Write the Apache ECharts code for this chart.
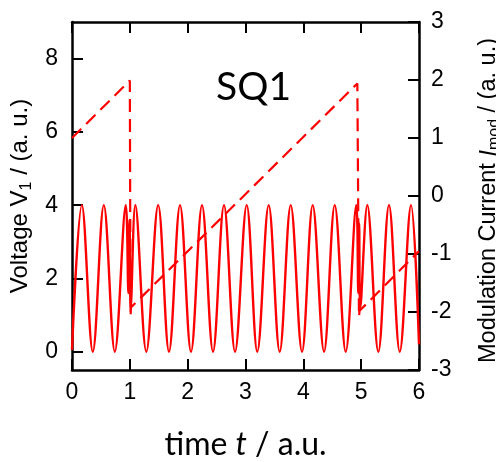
<!DOCTYPE html>
<html>
<head>
<meta charset="utf-8">
<script src="https://cdn.jsdelivr.net/npm/echarts@6/dist/echarts.min.js"></script>
<style>
html,body{margin:0;padding:0;background:#fff;}
#chart{width:496px;height:462px;}
</style>
</head>
<body>
<div id="chart"></div>
<script>
// Voltage V1 (left axis)
const timeV = [0, 0.17, 0.36, 0.55, 0.74, 0.93, 0.975, 0.995, 1.015, 1.095, 1.285, 1.49, 1.677, 1.868, 2.058, 2.248, 2.438, 2.628, 2.819, 3.021, 3.204, 3.401, 3.591, 3.782, 3.977, 4.162, 4.358, 4.543, 4.733, 4.916, 4.95, 4.965, 4.985, 5.106, 5.297, 5.481, 5.667, 5.862, 6.0];
const voltage = [0.05, 4, 0, 4, 0, 4, 1.6, 3.6, 1.2, 4, 0, 4, 0, 4, 0, 4, 0, 4, 0, 4, 0, 4, 0, 4, 0, 4, 0, 4, 0, 4, 1.6, 3.5, 1.2, 4, 0, 4, 0, 4, 0.2];
// Modulation current Imod (right axis)
const timeI = [0, 1.0, 1.012, 1.02, 4.934, 4.962, 4.972, 6];
const current = [1.0, 1.99, -2.08, -1.92, 1.94, -2.08, -1.98, -0.95];
// tick values
const xTicks = [0, 1, 2, 3, 4, 5, 6];
const leftTicks = [0, 2, 4, 6, 8];
const rightTicks = [-3, -2, -1, 0, 1, 2, 3];

const vData = timeV.map((t, i) => [t, voltage[i]]);
const iData = timeI.map((t, i) => [t, current[i]]);

const chart = echarts.init(document.getElementById('chart'), null, {renderer: 'canvas'});
const axisLine = {show: true, onZero: false, lineStyle: {color: '#000', width: 2.5}};
const tickStyle = {color: '#000', width: 2};
const labelFont = 'Liberation Sans';

chart.setOption({
  animation: false,
  grid: {left: 72, right: 77, top: 22, bottom: 92, containLabel: false, outerBoundsMode: 'none'},
  xAxis: [{
    type: 'value', min: 0, max: 6, interval: 1, position: 'bottom',
    axisLine: axisLine,
    axisTick: {inside: true, length: 11, lineStyle: tickStyle},
    axisLabel: {fontSize: 23, color: '#000', fontFamily: labelFont, margin: 11,
      customValues: xTicks},
    splitLine: {show: false},
    name: '{n|time }{i|t}{n| / a.u.}',
    nameLocation: 'middle', nameGap: 59,
    nameTextStyle: {rich: {
      n: {fontSize: 32, fontFamily: 'Lato', color: '#000'},
      i: {fontSize: 32, fontFamily: 'Lato', fontStyle: 'italic', color: '#000'}
    }}
  }, {
    type: 'value', min: 0, max: 6, interval: 1, position: 'top',
    axisLine: axisLine,
    axisTick: {inside: true, length: 11, lineStyle: tickStyle},
    axisLabel: {show: false},
    splitLine: {show: false}
  }],
  yAxis: [{
    type: 'value', min: -0.5, max: 9, position: 'left',
    axisLine: axisLine,
    axisTick: {inside: true, length: 11, lineStyle: tickStyle, customValues: leftTicks},
    axisLabel: {fontSize: 23, color: '#000', fontFamily: labelFont, margin: 14, customValues: leftTicks},
    splitLine: {show: false},
    name: '{n|Voltage V}{s|1}{n| / (a. u.)}',
    nameLocation: 'middle', nameGap: 36, nameRotate: 90,
    nameTextStyle: {rich: {
      n: {fontSize: 24, fontFamily: labelFont, color: '#000', lineHeight: 28},
      s: {fontSize: 16, fontFamily: labelFont, color: '#000', verticalAlign: 'bottom', lineHeight: 28}
    }}
  }, {
    type: 'value', min: -3, max: 3, interval: 1, position: 'right',
    axisLine: axisLine,
    axisTick: {inside: true, length: 11, lineStyle: tickStyle, customValues: rightTicks},
    axisLabel: {fontSize: 23, color: '#000', fontFamily: labelFont, margin: 12, customValues: rightTicks},
    splitLine: {show: false},
    name: '{n|Modulation Current }{i|I}{s|mod}{n| / (a. u.)}',
    nameLocation: 'middle', nameGap: 56, nameRotate: 90,
    nameTextStyle: {padding: [0, 9, 0, 0], rich: {
      n: {fontSize: 23.5, fontFamily: labelFont, color: '#000', lineHeight: 28},
      i: {fontSize: 23.5, fontFamily: labelFont, fontStyle: 'italic', color: '#000', lineHeight: 28},
      s: {fontSize: 16, fontFamily: labelFont, color: '#000', verticalAlign: 'bottom', lineHeight: 28}
    }}
  }],
  graphic: [{
    type: 'text', left: 216, top: 68,
    style: {text: 'SQ1', fontSize: 39, fontFamily: 'Lato', fill: '#000'}
  }],
  series: [{
    type: 'line', xAxisIndex: 0, yAxisIndex: 0, data: vData,
    showSymbol: false, smooth: 0.36, clip: true,
    lineStyle: {color: '#ff0000', width: 2.4}
  }, {
    type: 'line', xAxisIndex: 0, yAxisIndex: 1, data: iData,
    showSymbol: false, smooth: false, clip: true,
    lineStyle: {color: '#ff0000', width: 2.2, type: [13, 7]}
  }]
});
</script>
</body>
</html>
